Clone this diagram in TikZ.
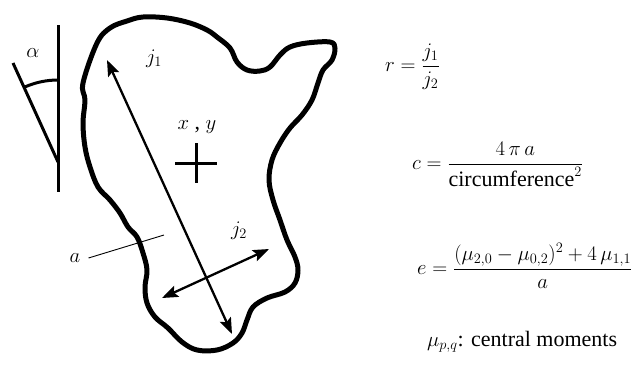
\documentclass[tikz,border=0pt]{standalone}
\usepackage{amsmath}
\usepackage{fontspec}
\setmainfont{Liberation Serif}
\usetikzlibrary{arrows.meta}

\begin{document}
\begin{tikzpicture}[
    x=1pt, y=-1pt,
    lbl/.style={font=\fontsize{22}{26}\selectfont, inner sep=0pt},
    formula/.style={lbl, anchor=base west},
    outline/.style={line width=5pt, line join=round},
    axisline/.style={line width=3pt},
    pointer/.style={line width=0.9pt},
    dbl/.style={{Stealth[length=16pt,width=12pt,inset=3pt]}-{Stealth[length=16pt,width=12pt,inset=3pt]}, line width=2.3pt}
  ]
    \useasboundingbox (0,0) rectangle (637,365);
    % outline of the region
    \draw[outline] plot[smooth cycle, tension=0.6] coordinates {
      (83,83) (97,43) (110,28) (127,21) (143,17) (167,18) (190,23) (207,30)
      (217,37) (230,48) (237,62) (247,70) (260,71) (270,67) (280,55) (290,47)
      (307,43) (330,42) (335,48) (332,60) (323,70) (318,83) (312,100) (302,115)
      (290,128) (280,143) (272,160) (269,180) (273,200) (280,220) (287,240) (295,257)
      (298,270) (295,283) (285,292) (267,298) (253,307) (247,320) (242,333) (233,343)
      (217,350) (197,350) (182,342) (168,328) (155,317) (147,303) (145,287) (147,270)
      (143,253) (137,237) (128,227) (120,213) (110,200) (98,187) (90,167) (85,147)
      (83,123) (85,100)};
    % orientation angle
    \coordinate (vtop) at (58,25);
    \coordinate (vbot) at (58,192);
    \coordinate (vtip) at (58,162);
    \coordinate (slant) at (13,63);
    \draw[axisline] (vtop) -- (vbot);
    \draw[axisline] (slant) -- (vtip);
    \draw[axisline] (58,80) arc[start angle=-90, end angle=-114, radius=82];
    \node[lbl] (alpha) at (33,53) {$\alpha$};
    % centroid
    \draw[axisline] (175,163) -- (217,163);
    \draw[axisline] (196,143) -- (196,183);
    \node[lbl] (xy) at (197,127) {$x$ , $y$};
    % axes
    \coordinate (j1a) at (107,60);
    \coordinate (j1b) at (232,334);
    \coordinate (j2a) at (162,298);
    \coordinate (j2b) at (269,249);
    \draw[dbl] (j1a) -- (j1b);
    \draw[dbl] (j2a) -- (j2b);
    \node[lbl] (jone) at (154,59) {$j_1$};
    \node[lbl] (jtwo) at (239,231) {$j_2$};
    % area
    \coordinate (apt) at (164,235);
    \node[lbl] (alab) at (75,258) {$a$};
    \draw[pointer] ([xshift=8pt]alab.east) -- (apt);
    % formulas
    \node[formula] (ratio) at (385,71.5) {$\displaystyle r=\frac{j_1}{j_2}$};
    \node[formula] (circ) at (412,169.5) {$\displaystyle c=\frac{4\,\pi\, a}{\text{circumference}^2}$};
    \node[formula] (ecc) at (417,274.5) {$\displaystyle e=\frac{(\mu_{2,0}-\mu_{0,2})^2+4\,\mu_{1,1}}{a}$};
    \node[formula] (moments) at (427,346) {$\mu_{p,q}$: central moments};
\end{tikzpicture}
\end{document}
